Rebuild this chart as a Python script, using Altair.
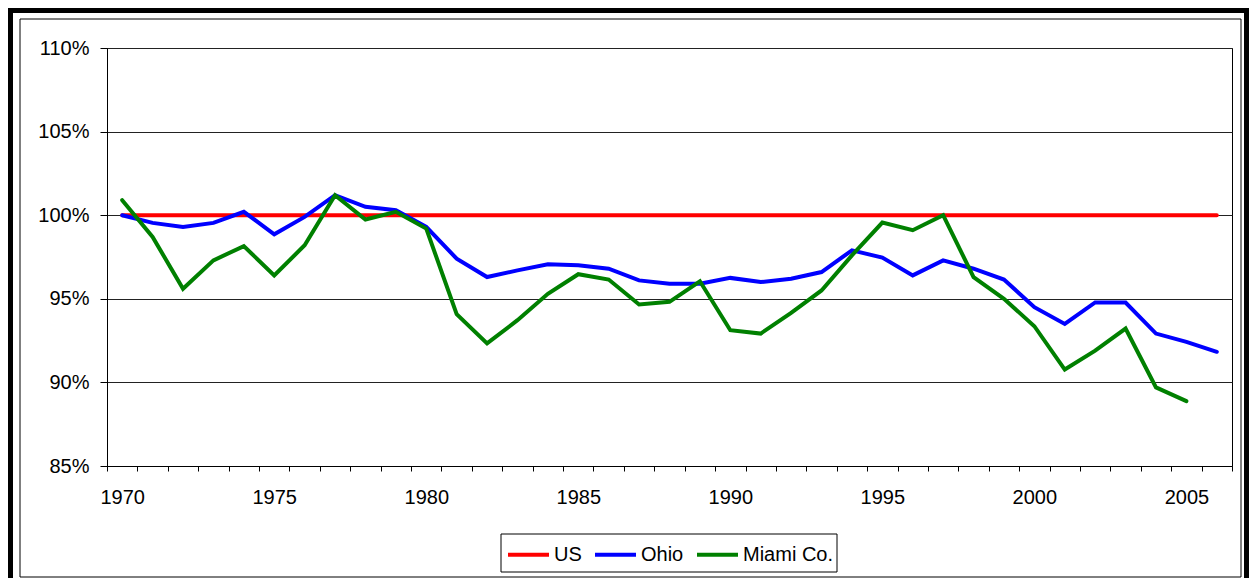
import altair as alt
import pandas as pd

years = [str(y) for y in range(1970, 2007)]
us = [100.0] * 37
ohio = [100.0, 99.54, 99.3, 99.54, 100.2, 98.86, 99.9, 101.2, 100.5, 100.3, 99.3, 97.4, 96.3,
        96.7, 97.07, 97.0, 96.8, 96.1, 95.9, 95.9, 96.25, 96.0, 96.2, 96.6, 97.9, 97.47,
        96.4, 97.3, 96.8, 96.15, 94.5, 93.5, 94.78, 94.78, 92.92, 92.42, 91.83]
miami = [100.9, 98.7, 95.6, 97.3, 98.15, 96.4, 98.2, 101.2, 99.74, 100.2, 99.2, 94.08, 92.33,
         93.72, 95.3, 96.47, 96.15, 94.66, 94.82, 96.05, 93.12, 92.92, 94.16, 95.5, 97.6, 99.56,
         99.1, 100.0, 96.3, 95.0, 93.36, 90.77, 91.9, 93.22, 89.7, 88.88, None]
series_names = ["US", "Ohio", "Miami Co."]
series_colors = ["#ff0000", "#0000ff", "#008000"]
y_ticks = [85, 90, 95, 100, 105, 110]

rows = []
for name, vals in zip(series_names, [us, ohio, miami]):
    for yr, v in zip(years, vals):
        if v is not None:
            rows.append({"year": yr, "value": v, "series": name})
df = pd.DataFrame(rows)

FONT = "Liberation Sans"

x_enc = alt.X("year:O", sort=years,
              scale=alt.Scale(type="band", paddingInner=0, paddingOuter=0),
              axis=alt.Axis(title=None, tickBand="extent", labelAngle=0,
                            labelExpr="datum.value % 5 == 0 ? datum.label : ''",
                            tickSize=5, labelPadding=16, domainColor="black",
                            tickColor="black", labelColor="black", labelFont=FONT,
                            labelFontSize=20, grid=False))
y_enc = alt.Y("value:Q", scale=alt.Scale(domain=[85, 110], nice=False, zero=False),
              axis=alt.Axis(title=None, values=y_ticks, labelExpr="datum.value + '%'",
                            tickSize=7, labelPadding=11, domainColor="black",
                            tickColor="black", labelColor="black", labelFont=FONT,
                            labelFontSize=20, grid=True, gridColor="#222222",
                            gridWidth=1))
color_enc = alt.Color("series:N", sort=series_names,
                      scale=alt.Scale(domain=series_names, range=series_colors),
                      legend=alt.Legend(title=None, orient="none", legendX=399, legendY=484,
                                        direction="horizontal", columns=3,
                                        padding=0,
                                        symbolType="stroke", symbolSize=1681,
                                        symbolStrokeWidth=4, labelFont=FONT,
                                        labelFontSize=20, labelColor="black",
                                        labelOffset=3, columnPadding=5))

base = alt.Chart(df)
lines = []
for name in series_names:
    lines.append(base.transform_filter(alt.datum.series == name)
                 .mark_line(strokeWidth=4, strokeCap="round", clip=False)
                 .encode(x=x_enc, y=y_enc, color=color_enc))

one = alt.Chart(pd.DataFrame({"a": [0]}))
outer = one.mark_rect(fillOpacity=0, stroke="black", strokeWidth=5, clip=False).encode(
    x=alt.value(-96.5), x2=alt.value(1139.5), y=alt.value(-37.5), y2=alt.value(600))
inner = one.mark_rect(fillOpacity=0, stroke="black", strokeWidth=1, clip=False).encode(
    x=alt.value(-87), x2=alt.value(1134), y=alt.value(-29), y2=alt.value(529))
legend_box = one.mark_rect(fill="white", stroke="black", strokeWidth=1, clip=False).encode(
    x=alt.value(394), x2=alt.value(730), y=alt.value(486), y2=alt.value(524))

chart = alt.layer(outer, inner, legend_box, *lines).properties(
    width=1125, height=418,
    autosize=alt.AutoSizeParams(type="none"),
    padding={"left": 99, "top": 40, "right": 17, "bottom": 112},
).configure_view(stroke="black", strokeWidth=1)

chart.save("out.html", embed_options={"renderer": "svg", "actions": False})
